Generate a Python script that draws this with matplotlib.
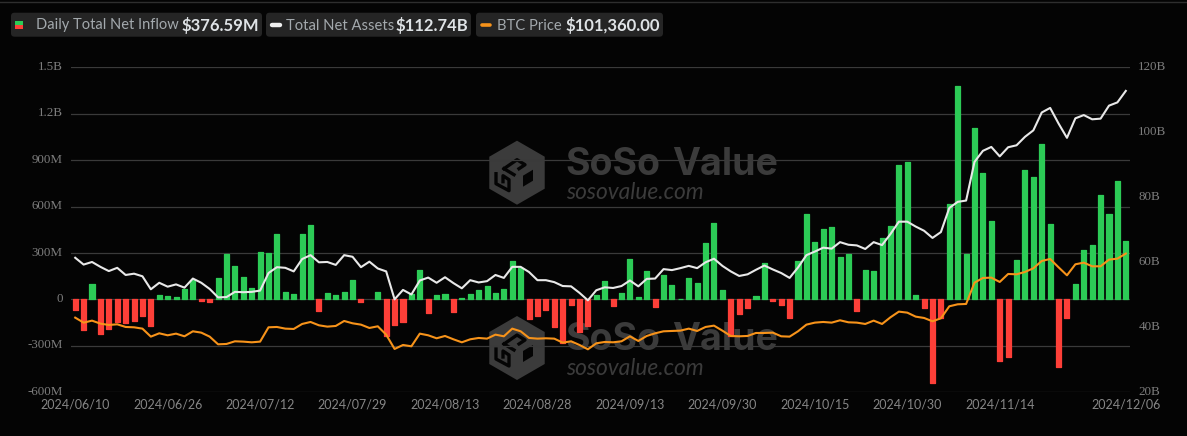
import numpy as np
import matplotlib
matplotlib.use('Agg')
import matplotlib.pyplot as plt
from matplotlib.patches import FancyBboxPatch, Rectangle, RegularPolygon, Polygon
from matplotlib.transforms import ScaledTranslation

W, H = 1187, 436

# daily total net inflow, in millions, one per trading day
inflow = [-65, -200, 100, -225, -190, -147, -153, -140, -104, -173,
          28, 20, 13, 70, 123, -9, -15, 140, 291, 214,
          145, 76, 309, 300, 421, 50, 35, 425, 483, -75,
          43, 28, 50, 123, -15, 0, 50, -237, -168, -147,
          37, 192, -88, 26, 37, -80, 9, 35, 60, 86,
          39, 65, 250, 203, -127, -106, -71, -175, -280, -39,
          -211, -170, 26, 117, -43, 39, 261, 13, 186, -52,
          158, 91, 4, 136, 104, 365, 494, 58, -233, -91,
          -54, 24, 235, -11, -39, -121, 250, 555, 369, 457,
          468, 272, 291, -76, 190, 186, 399, 477, 868, 891,
          30, -54, -540, -119, 619, 1377, 291, 1111, 814, 507,
          -399, -369, 252, 835, 794, 1003, 488, -436, -121, 101,
          317, 352, 673, 555, 764, 376.59]

# total net assets, in billions
assets = [61.4, 59.3, 60.1, 58.6, 57.3, 58.3, 56.1, 56.5, 55.7, 51.7,
          53.7, 52.5, 53.2, 52.2, 55.0, 53.7, 51.8, 49.2, 49.3, 50.9,
          50.8, 50.9, 51.3, 56.7, 58.5, 58.3, 57.2, 61.0, 62.2, 60.0,
          60.1, 59.2, 62.2, 61.7, 58.5, 60.2, 58.1, 57.2, 48.6, 51.5,
          50.1, 54.4, 55.3, 53.7, 55.4, 53.6, 52.0, 54.5, 53.8, 54.2,
          56.1, 55.2, 58.6, 58.6, 57.0, 54.5, 54.5, 53.9, 52.7, 52.6,
          50.6, 48.3, 51.4, 52.3, 52.1, 52.7, 54.4, 52.6, 54.9, 55.0,
          57.9, 57.6, 58.2, 58.9, 58.2, 60.0, 61.1, 58.9, 57.2, 55.8,
          56.3, 57.7, 59.0, 57.8, 56.7, 55.2, 58.4, 62.2, 63.3, 64.5,
          64.2, 66.2, 65.4, 65.2, 64.1, 66.2, 65.3, 68.7, 72.5, 72.5,
          71.0, 69.7, 67.5, 69.3, 76.7, 78.6, 79.0, 90.9, 94.3, 95.5,
          92.6, 95.4, 96.0, 98.6, 100.6, 106.1, 107.5, 102.7, 98.3, 104.3,
          105.3, 104.0, 104.2, 108.2, 109.2, 112.74]

# btc close, usd
btc = [69333, 66833, 67833, 66333, 65667, 66000, 64667, 64500, 63833, 59833,
       61500, 60500, 61333, 60000, 62500, 61833, 59833, 56000, 56167, 57500,
       57333, 57000, 57333, 64500, 64667, 63833, 63667, 66167, 67167, 65500,
       64833, 65167, 67667, 66500, 65833, 64167, 65000, 60833, 53667, 55667,
       55000, 61333, 60500, 59000, 60167, 58500, 57000, 58500, 59167, 58833,
       60833, 60000, 63833, 62500, 59167, 58833, 59000, 58833, 56833, 57500,
       55667, 53500, 56500, 57167, 57000, 57500, 60000, 57667, 60167, 61500,
       62500, 62667, 62833, 63833, 62667, 64667, 65333, 62833, 60167, 60000,
       60167, 61667, 61667, 61833, 60000, 59833, 62500, 65833, 66833, 67167,
       66833, 68000, 67000, 66833, 66167, 67833, 66167, 69500, 72333, 71833,
       69833, 69167, 67500, 69000, 75000, 76000, 76167, 86833, 89167, 89333,
       87167, 91167, 91000, 92167, 94000, 97667, 98667, 94500, 90500, 96000,
       96833, 95000, 95000, 98333, 98833, 101360]

tick_idx = [0, 11, 22, 33, 44, 55, 66, 77, 88, 99, 110, 125]
tick_dates = ['2024/06/10', '2024/06/26', '2024/07/12', '2024/07/29', '2024/08/13', '2024/08/28',
              '2024/09/13', '2024/09/30', '2024/10/15', '2024/10/30', '2024/11/14', '2024/12/06']
left_ticks = [-600, -300, 0, 300, 600, 900, 1200, 1500]
left_labels = ['-600M', '-300M', '0', '300M', '600M', '900M', '1.2B', '1.5B']
right_ticks = [20, 40, 60, 80, 100, 120]
right_labels = ['20B', '40B', '60B', '80B', '100B', '120B']

BG = '#040404'
GREEN = '#2ccb56'
RED = '#fd3f38'
GRID = '#3a3a3a'
TICK = '#7d7d7d'
MARK = '#3b3b3b'
SERIF = ['Liberation Serif', 'DejaVu Serif']

plt.rcParams['font.family'] = ['Lato', 'DejaVu Sans']

fig = plt.figure(figsize=(W / 100, H / 100), dpi=100, facecolor=BG)
ax = fig.add_axes([71 / W, 1 - 392.3 / H, 1059 / W, 325 / H], facecolor='none')
ax.set_zorder(3)
ax2 = ax.twinx()
ax3 = ax.twinx()
ax2.set_zorder(4)
ax3.set_zorder(5)

x = np.arange(len(inflow))
colors = [GREEN if v >= 0 else RED for v in inflow]
edges = ['none' if v == 0 else c for v, c in zip(inflow, colors)]
ax.bar(x, inflow, width=0.6, color=colors, edgecolor=edges, lw=0.9, joinstyle='round', zorder=3)
ax.set_xlim(-0.5, len(inflow) - 0.5)
ax.set_ylim(-600, 1500)
ax.set_yticks(left_ticks, left_labels)
ax.set_xticks(tick_idx, tick_dates)
ax.grid(axis='y', color=GRID, lw=0.9, zorder=0)
ax.set_axisbelow(True)
ax.tick_params(axis='y', length=0, pad=6, labelcolor=TICK)
ax.tick_params(axis='x', length=0, pad=4.5, labelsize=9, labelcolor='#868686')

ax2.plot(x, assets, color='#e8e8e8', lw=1.5, solid_joinstyle='round')
ax2.set_ylim(20, 120)
ax2.set_yticks(right_ticks, right_labels)
ax2.tick_params(axis='y', length=0, pad=6, labelcolor=TICK)

# value labels sit a little above their gridlines in the original
for a in (ax, ax2):
    for lab in a.get_yticklabels():
        lab.set_fontfamily(SERIF)
        lab.set_fontsize(9.4)
        lab.set_transform(lab.get_transform() + ScaledTranslation(0, 2 / 100, fig.dpi_scale_trans))

ax3.plot(x, btc, color='#f7931a', lw=1.5, solid_joinstyle='round')
ax3.set_ylim(32000, 194500)
ax3.set_yticks([])

for a in (ax, ax2, ax3):
    for s in a.spines.values():
        s.set_visible(False)

bg = fig.add_axes([0, 0, 1, 1], facecolor='none', zorder=1)
bg.set_xlim(0, W)
bg.set_ylim(H, 0)
bg.axis('off')

# watermark logo, offsets from the hexagon centre in pixels
right_cut = [(6, 3), (16, -3), (16, 8), (6, 14)]
left_cut = [(-21, 1), (-21, 11), (-8, 18), (-8, 7), (-14, 3), (-14, 9)]
top_cut = [(-13, -4), (0, -13), (8, -8), (2, -4)]
mid_cut = [(-13, -4), (-3, 2)]

for cy in (172.7, 348):
    bg.add_patch(RegularPolygon((517, cy), 6, radius=32, color=MARK, lw=0))
    bg.add_patch(Polygon([(517 + a, cy + b) for a, b in right_cut], color=BG, lw=0))
    for cut in (left_cut, top_cut, mid_cut):
        bg.plot([517 + a for a, b in cut], [cy + b for a, b in cut], color=BG, lw=2.4)
    bg.text(565, cy - 8, 'SoSo', color=MARK, fontsize=27, fontweight='bold',
            va='center', ha='left', family=['Inter', 'DejaVu Sans'])
    bg.text(672, cy - 8, 'Value', color=MARK, fontsize=27, fontweight='bold',
            va='center', ha='left', family=['Inter', 'DejaVu Sans'])
    bg.text(566, cy + 20, 'sosovalue.com', color=MARK, fontsize=16.4, style='italic',
            va='center', ha='left', family=['Lato', 'DejaVu Sans'])

# top hairline and legend chips
bg.plot([0, W], [2.5, 2.5], color='#2e2e2e', lw=1)
chips = [(11, 251), (266, 205), (476, 187)]
for cx, cw in chips:
    bg.add_patch(FancyBboxPatch((cx, 12.7), cw, 24, boxstyle='round,pad=0,rounding_size=3.5',
                                facecolor='#252525', edgecolor='none'))
bg.add_patch(Rectangle((15, 21.3), 8, 4, color=GREEN, lw=0))
bg.add_patch(Rectangle((15, 25.3), 8, 4, color=RED, lw=0))
bg.plot([272, 280], [25, 25], color='#efefef', lw=3.2, solid_capstyle='round')
bg.plot([482, 490], [25, 25], color='#f7931a', lw=2.6, solid_capstyle='round')

LAB = '#a3a9ad'
VAL = '#dfe3e6'
bg.text(35.5, 25.5, 'Daily Total Net Inflow', color=LAB, fontsize=10.5, va='center')
bg.text(181, 25.5, '$376.59M', color=VAL, fontsize=12, fontweight='bold', va='center')
bg.text(286, 25.5, 'Total Net Assets', color=LAB, fontsize=10.6, va='center')
bg.text(396, 25.5, '$112.74B', color=VAL, fontsize=12, fontweight='bold', va='center')
bg.text(497, 25.5, 'BTC Price', color=LAB, fontsize=10.6, va='center')
bg.text(565, 25.5, '$101,360.00', color=VAL, fontsize=12, fontweight='bold', va='center')

fig.savefig('out.png', dpi=100, facecolor=BG)
